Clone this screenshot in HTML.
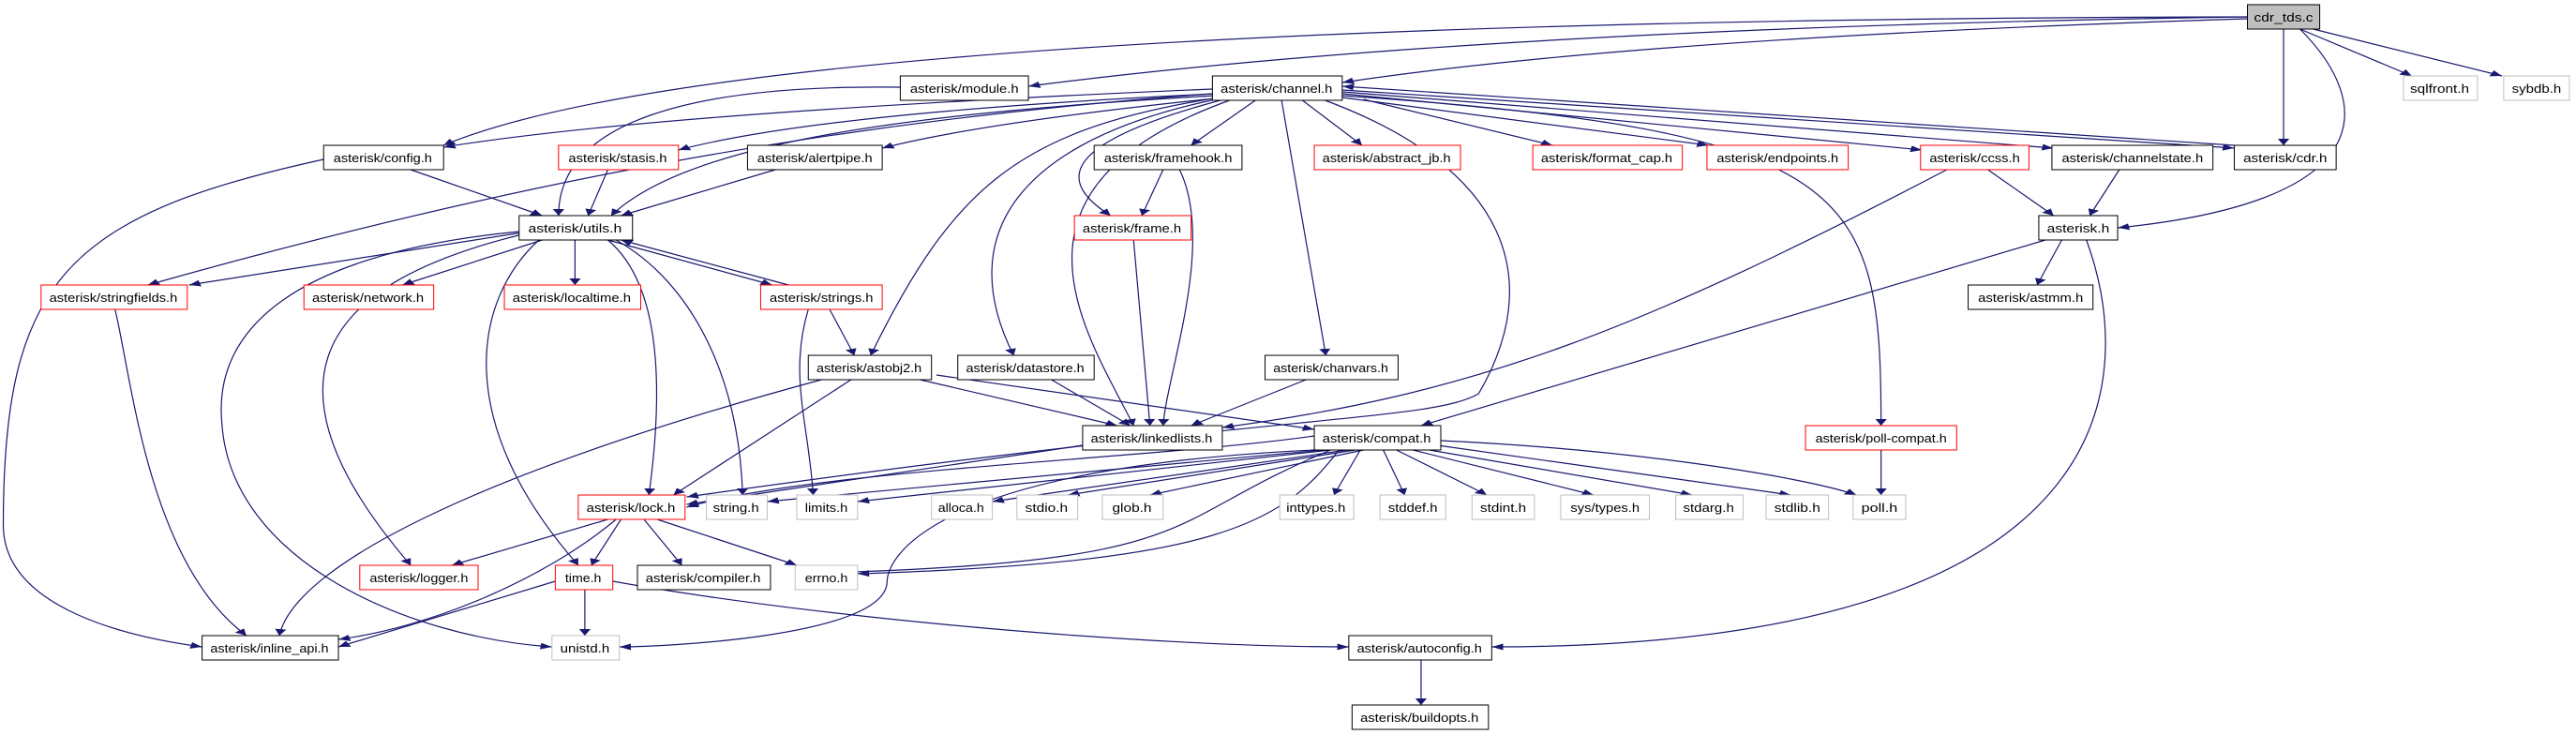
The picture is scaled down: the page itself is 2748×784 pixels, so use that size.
<!DOCTYPE html>
<html><head><meta charset="utf-8"><style>
html,body{margin:0;padding:0;background:#fff;}
svg{display:block;}
text{font-family:"Liberation Sans",sans-serif;font-size:13px;fill:#000;}
.e{fill:none;stroke:#191970;stroke-width:1.2;}
.b{fill:#fff;stroke:#000;}
.r{fill:#fff;stroke:#ff0000;}
.g{fill:#fff;stroke:#bfbfbf;}
</style></head><body>
<svg width="2748" height="784" viewBox="0 0 1568 784" preserveAspectRatio="none" xmlns="http://www.w3.org/2000/svg">
<defs><marker id="a" viewBox="0 0 10 10" refX="10" refY="5" markerUnits="userSpaceOnUse" markerWidth="7" markerHeight="10" orient="auto"><path d="M0,0L10,5L0,10z" fill="#191970"/></marker></defs>
<g class="e" marker-end="url(#a)" vector-effect="non-scaling-stroke">
<path vector-effect="non-scaling-stroke" d="M1368,18 Q900,30 626,92"/>
<path vector-effect="non-scaling-stroke" d="M1368,20 Q1000,40 817,88"/>
<path vector-effect="non-scaling-stroke" d="M1368,18 C800,20 400,60 270,155"/>
<path vector-effect="non-scaling-stroke" d="M1390,31 L1390,155"/>
<path vector-effect="non-scaling-stroke" d="M1400,31 C1445,110 1450,215 1289,243"/>
<path vector-effect="non-scaling-stroke" d="M1400,31 L1468,81"/>
<path vector-effect="non-scaling-stroke" d="M1408,31 L1523,81"/>
<path vector-effect="non-scaling-stroke" d="M548,93 C420,90 340,130 340,230"/>
<path vector-effect="non-scaling-stroke" d="M738,95 Q400,120 270,157"/>
<path vector-effect="non-scaling-stroke" d="M740,100 Q500,120 413,160"/>
<path vector-effect="non-scaling-stroke" d="M745,104 Q600,130 537,158"/>
<path vector-effect="non-scaling-stroke" d="M740,102 C560,120 420,150 372,230"/>
<path vector-effect="non-scaling-stroke" d="M738,100 C500,130 300,200 90,304"/>
<path vector-effect="non-scaling-stroke" d="M765,106 L725,155"/>
<path vector-effect="non-scaling-stroke" d="M745,106 C650,150 640,190 676,230"/>
<path vector-effect="non-scaling-stroke" d="M792,106 L829,155"/>
<path vector-effect="non-scaling-stroke" d="M830,106 L945,155"/>
<path vector-effect="non-scaling-stroke" d="M817,104 L1040,155"/>
<path vector-effect="non-scaling-stroke" d="M817,100 L1170,160"/>
<path vector-effect="non-scaling-stroke" d="M817,98 L1250,158"/>
<path vector-effect="non-scaling-stroke" d="M817,96 L1360,158"/>
<path vector-effect="non-scaling-stroke" d="M1360,155 L817,92"/>
<path vector-effect="non-scaling-stroke" d="M735,106 C620,140 580,200 530,379"/>
<path vector-effect="non-scaling-stroke" d="M740,106 C620,150 580,250 617,379"/>
<path vector-effect="non-scaling-stroke" d="M750,106 C600,200 660,350 690,454"/>
<path vector-effect="non-scaling-stroke" d="M780,106 L807,379"/>
<path vector-effect="non-scaling-stroke" d="M805,106 C920,180 940,300 900,420 C870,450 780,440 418,530"/>
<path vector-effect="non-scaling-stroke" d="M817,102 C1130,140 1145,200 1145,454"/>
<path vector-effect="non-scaling-stroke" d="M250,181 L330,230"/>
<path vector-effect="non-scaling-stroke" d="M197,170 C40,230 2,300 2,560 C2,650 80,680 123,690"/>
<path vector-effect="non-scaling-stroke" d="M370,181 L358,230"/>
<path vector-effect="non-scaling-stroke" d="M472,181 L378,230"/>
<path vector-effect="non-scaling-stroke" d="M708,181 L695,230"/>
<path vector-effect="non-scaling-stroke" d="M718,181 C740,260 710,400 708,454"/>
<path vector-effect="non-scaling-stroke" d="M690,256 L700,454"/>
<path vector-effect="non-scaling-stroke" d="M1210,181 L1250,230"/>
<path vector-effect="non-scaling-stroke" d="M1185,181 C1000,350 900,420 744,456"/>
<path vector-effect="non-scaling-stroke" d="M1290,181 L1272,230"/>
<path vector-effect="non-scaling-stroke" d="M1255,256 L1240,304"/>
<path vector-effect="non-scaling-stroke" d="M1245,256 L865,454"/>
<path vector-effect="non-scaling-stroke" d="M1270,256 C1300,400 1300,690 908,690"/>
<path vector-effect="non-scaling-stroke" d="M318,248 L115,304"/>
<path vector-effect="non-scaling-stroke" d="M330,256 L245,304"/>
<path vector-effect="non-scaling-stroke" d="M350,256 L350,304"/>
<path vector-effect="non-scaling-stroke" d="M370,256 L470,304"/>
<path vector-effect="non-scaling-stroke" d="M480,304 L378,256"/>
<path vector-effect="non-scaling-stroke" d="M370,256 C400,300 405,400 395,528"/>
<path vector-effect="non-scaling-stroke" d="M375,256 C420,300 450,400 452,528"/>
<path vector-effect="non-scaling-stroke" d="M328,256 C288,320 275,450 352,603"/>
<path vector-effect="non-scaling-stroke" d="M318,250 C200,300 150,400 250,603"/>
<path vector-effect="non-scaling-stroke" d="M316,247 C180,270 130,350 135,450 C140,600 250,680 336,690"/>
<path vector-effect="non-scaling-stroke" d="M505,330 L520,379"/>
<path vector-effect="non-scaling-stroke" d="M492,330 C480,400 492,450 495,528"/>
<path vector-effect="non-scaling-stroke" d="M70,330 C80,400 90,600 150,678"/>
<path vector-effect="non-scaling-stroke" d="M560,405 L680,454"/>
<path vector-effect="non-scaling-stroke" d="M570,400 L800,458"/>
<path vector-effect="non-scaling-stroke" d="M518,405 L410,528"/>
<path vector-effect="non-scaling-stroke" d="M500,405 C300,500 180,600 170,678"/>
<path vector-effect="non-scaling-stroke" d="M640,405 L688,454"/>
<path vector-effect="non-scaling-stroke" d="M795,405 L725,454"/>
<path vector-effect="non-scaling-stroke" d="M659,475 L418,538"/>
<path vector-effect="non-scaling-stroke" d="M800,465 C700,490 500,500 418,541"/>
<path vector-effect="non-scaling-stroke" d="M805,480 L467,535"/>
<path vector-effect="non-scaling-stroke" d="M810,480 L522,535"/>
<path vector-effect="non-scaling-stroke" d="M820,480 L604,535"/>
<path vector-effect="non-scaling-stroke" d="M825,480 L650,528"/>
<path vector-effect="non-scaling-stroke" d="M830,480 L700,528"/>
<path vector-effect="non-scaling-stroke" d="M828,480 L812,528"/>
<path vector-effect="non-scaling-stroke" d="M842,480 L855,528"/>
<path vector-effect="non-scaling-stroke" d="M850,480 L905,528"/>
<path vector-effect="non-scaling-stroke" d="M860,480 L970,528"/>
<path vector-effect="non-scaling-stroke" d="M870,480 L1030,528"/>
<path vector-effect="non-scaling-stroke" d="M875,475 L1090,528"/>
<path vector-effect="non-scaling-stroke" d="M877,470 C1000,480 1100,510 1130,528"/>
<path vector-effect="non-scaling-stroke" d="M810,480 C700,560 740,600 484,612"/>
<path vector-effect="non-scaling-stroke" d="M815,480 C780,560 740,600 522,612"/>
<path vector-effect="non-scaling-stroke" d="M800,480 C560,500 540,600 540,620 C540,680 400,690 377,690"/>
<path vector-effect="non-scaling-stroke" d="M1145,480 L1145,528"/>
<path vector-effect="non-scaling-stroke" d="M370,554 L275,603"/>
<path vector-effect="non-scaling-stroke" d="M378,554 L360,603"/>
<path vector-effect="non-scaling-stroke" d="M392,554 L415,603"/>
<path vector-effect="non-scaling-stroke" d="M400,554 L485,603"/>
<path vector-effect="non-scaling-stroke" d="M375,554 C330,620 260,670 206,682"/>
<path vector-effect="non-scaling-stroke" d="M338,620 L206,690"/>
<path vector-effect="non-scaling-stroke" d="M356,629 L356,678"/>
<path vector-effect="non-scaling-stroke" d="M373,620 C500,660 700,690 821,690"/>
<path vector-effect="non-scaling-stroke" d="M865,704 L865,752"/>
</g>
<g>
<rect x="1368" y="5" width="44" height="26" fill="#bfbfbf" stroke="#000" vector-effect="non-scaling-stroke"/><text x="1390" y="23" text-anchor="middle" textLength="36" lengthAdjust="spacingAndGlyphs">cdr_tds.c</text>
<rect class="b" x="548" y="81" width="78" height="26" vector-effect="non-scaling-stroke"/><text x="587" y="99" text-anchor="middle" textLength="66" lengthAdjust="spacingAndGlyphs">asterisk/module.h</text>
<rect class="b" x="738" y="81" width="79" height="26" vector-effect="non-scaling-stroke"/><text x="777" y="99" text-anchor="middle" textLength="68" lengthAdjust="spacingAndGlyphs">asterisk/channel.h</text>
<rect class="g" x="1463" y="81" width="45" height="26" vector-effect="non-scaling-stroke"/><text x="1485" y="99" text-anchor="middle" textLength="36" lengthAdjust="spacingAndGlyphs">sqlfront.h</text>
<rect class="g" x="1524" y="81" width="40" height="26" vector-effect="non-scaling-stroke"/><text x="1544" y="99" text-anchor="middle" textLength="30" lengthAdjust="spacingAndGlyphs">sybdb.h</text>

<rect class="b" x="197" y="155" width="73" height="26" vector-effect="non-scaling-stroke"/><text x="233" y="173" text-anchor="middle" textLength="60" lengthAdjust="spacingAndGlyphs">asterisk/config.h</text>
<rect class="r" x="340" y="155" width="73" height="26" vector-effect="non-scaling-stroke"/><text x="376" y="173" text-anchor="middle" textLength="60" lengthAdjust="spacingAndGlyphs">asterisk/stasis.h</text>
<rect class="b" x="455" y="155" width="82" height="26" vector-effect="non-scaling-stroke"/><text x="496" y="173" text-anchor="middle" textLength="70" lengthAdjust="spacingAndGlyphs">asterisk/alertpipe.h</text>
<rect class="b" x="666" y="155" width="90" height="26" vector-effect="non-scaling-stroke"/><text x="711" y="173" text-anchor="middle" textLength="78" lengthAdjust="spacingAndGlyphs">asterisk/framehook.h</text>
<rect class="r" x="800" y="155" width="89" height="26" vector-effect="non-scaling-stroke"/><text x="844" y="173" text-anchor="middle" textLength="78" lengthAdjust="spacingAndGlyphs">asterisk/abstract_jb.h</text>
<rect class="r" x="933" y="155" width="91" height="26" vector-effect="non-scaling-stroke"/><text x="978" y="173" text-anchor="middle" textLength="80" lengthAdjust="spacingAndGlyphs">asterisk/format_cap.h</text>
<rect class="r" x="1039" y="155" width="86" height="26" vector-effect="non-scaling-stroke"/><text x="1082" y="173" text-anchor="middle" textLength="74" lengthAdjust="spacingAndGlyphs">asterisk/endpoints.h</text>
<rect class="r" x="1169" y="155" width="66" height="26" vector-effect="non-scaling-stroke"/><text x="1202" y="173" text-anchor="middle" textLength="55" lengthAdjust="spacingAndGlyphs">asterisk/ccss.h</text>
<rect class="b" x="1249" y="155" width="98" height="26" vector-effect="non-scaling-stroke"/><text x="1298" y="173" text-anchor="middle" textLength="86" lengthAdjust="spacingAndGlyphs">asterisk/channelstate.h</text>
<rect class="b" x="1360" y="155" width="62" height="26" vector-effect="non-scaling-stroke"/><text x="1391" y="173" text-anchor="middle" textLength="51" lengthAdjust="spacingAndGlyphs">asterisk/cdr.h</text>

<rect class="b" x="316" y="230" width="69" height="26" vector-effect="non-scaling-stroke"/><text x="350" y="248" text-anchor="middle" textLength="57" lengthAdjust="spacingAndGlyphs">asterisk/utils.h</text>
<rect class="r" x="654" y="230" width="71" height="26" vector-effect="non-scaling-stroke"/><text x="689" y="248" text-anchor="middle" textLength="60" lengthAdjust="spacingAndGlyphs">asterisk/frame.h</text>
<rect class="b" x="1241" y="230" width="48" height="26" vector-effect="non-scaling-stroke"/><text x="1265" y="248" text-anchor="middle" textLength="38" lengthAdjust="spacingAndGlyphs">asterisk.h</text>

<rect class="r" x="25" y="304" width="89" height="26" vector-effect="non-scaling-stroke"/><text x="69" y="322" text-anchor="middle" textLength="78" lengthAdjust="spacingAndGlyphs">asterisk/stringfields.h</text>
<rect class="r" x="185" y="304" width="79" height="26" vector-effect="non-scaling-stroke"/><text x="224" y="322" text-anchor="middle" textLength="68" lengthAdjust="spacingAndGlyphs">asterisk/network.h</text>
<rect class="r" x="307" y="304" width="83" height="26" vector-effect="non-scaling-stroke"/><text x="348" y="322" text-anchor="middle" textLength="72" lengthAdjust="spacingAndGlyphs">asterisk/localtime.h</text>
<rect class="r" x="463" y="304" width="74" height="26" vector-effect="non-scaling-stroke"/><text x="500" y="322" text-anchor="middle" textLength="63" lengthAdjust="spacingAndGlyphs">asterisk/strings.h</text>
<rect class="b" x="1198" y="304" width="76" height="26" vector-effect="non-scaling-stroke"/><text x="1236" y="322" text-anchor="middle" textLength="64" lengthAdjust="spacingAndGlyphs">asterisk/astmm.h</text>

<rect class="b" x="492" y="379" width="75" height="26" vector-effect="non-scaling-stroke"/><text x="529" y="397" text-anchor="middle" textLength="64" lengthAdjust="spacingAndGlyphs">asterisk/astobj2.h</text>
<rect class="b" x="583" y="379" width="83" height="26" vector-effect="non-scaling-stroke"/><text x="624" y="397" text-anchor="middle" textLength="72" lengthAdjust="spacingAndGlyphs">asterisk/datastore.h</text>
<rect class="b" x="770" y="379" width="81" height="26" vector-effect="non-scaling-stroke"/><text x="810" y="397" text-anchor="middle" textLength="70" lengthAdjust="spacingAndGlyphs">asterisk/chanvars.h</text>

<rect class="b" x="659" y="454" width="85" height="26" vector-effect="non-scaling-stroke"/><text x="701" y="472" text-anchor="middle" textLength="74" lengthAdjust="spacingAndGlyphs">asterisk/linkedlists.h</text>
<rect class="b" x="800" y="454" width="77" height="26" vector-effect="non-scaling-stroke"/><text x="838" y="472" text-anchor="middle" textLength="66" lengthAdjust="spacingAndGlyphs">asterisk/compat.h</text>
<rect class="r" x="1099" y="454" width="92" height="26" vector-effect="non-scaling-stroke"/><text x="1145" y="472" text-anchor="middle" textLength="80" lengthAdjust="spacingAndGlyphs">asterisk/poll-compat.h</text>

<rect class="r" x="352" y="528" width="65" height="26" vector-effect="non-scaling-stroke"/><text x="384" y="546" text-anchor="middle" textLength="54" lengthAdjust="spacingAndGlyphs">asterisk/lock.h</text>
<rect class="g" x="430" y="528" width="37" height="26" vector-effect="non-scaling-stroke"/><text x="448" y="546" text-anchor="middle" textLength="28" lengthAdjust="spacingAndGlyphs">string.h</text>
<rect class="g" x="485" y="528" width="37" height="26" vector-effect="non-scaling-stroke"/><text x="503" y="546" text-anchor="middle" textLength="26" lengthAdjust="spacingAndGlyphs">limits.h</text>
<rect class="g" x="567" y="528" width="37" height="26" vector-effect="non-scaling-stroke"/><text x="585" y="546" text-anchor="middle" textLength="28" lengthAdjust="spacingAndGlyphs">alloca.h</text>
<rect class="g" x="619" y="528" width="37" height="26" vector-effect="non-scaling-stroke"/><text x="637" y="546" text-anchor="middle" textLength="26" lengthAdjust="spacingAndGlyphs">stdio.h</text>
<rect class="g" x="671" y="528" width="37" height="26" vector-effect="non-scaling-stroke"/><text x="689" y="546" text-anchor="middle" textLength="24" lengthAdjust="spacingAndGlyphs">glob.h</text>
<rect class="g" x="779" y="528" width="45" height="26" vector-effect="non-scaling-stroke"/><text x="801" y="546" text-anchor="middle" textLength="36" lengthAdjust="spacingAndGlyphs">inttypes.h</text>
<rect class="g" x="840" y="528" width="40" height="26" vector-effect="non-scaling-stroke"/><text x="860" y="546" text-anchor="middle" textLength="30" lengthAdjust="spacingAndGlyphs">stddef.h</text>
<rect class="g" x="896" y="528" width="38" height="26" vector-effect="non-scaling-stroke"/><text x="915" y="546" text-anchor="middle" textLength="28" lengthAdjust="spacingAndGlyphs">stdint.h</text>
<rect class="g" x="950" y="528" width="54" height="26" vector-effect="non-scaling-stroke"/><text x="977" y="546" text-anchor="middle" textLength="42" lengthAdjust="spacingAndGlyphs">sys/types.h</text>
<rect class="g" x="1020" y="528" width="41" height="26" vector-effect="non-scaling-stroke"/><text x="1040" y="546" text-anchor="middle" textLength="31" lengthAdjust="spacingAndGlyphs">stdarg.h</text>
<rect class="g" x="1075" y="528" width="38" height="26" vector-effect="non-scaling-stroke"/><text x="1094" y="546" text-anchor="middle" textLength="28" lengthAdjust="spacingAndGlyphs">stdlib.h</text>
<rect class="g" x="1128" y="528" width="32" height="26" vector-effect="non-scaling-stroke"/><text x="1144" y="546" text-anchor="middle" textLength="22" lengthAdjust="spacingAndGlyphs">poll.h</text>

<rect class="r" x="219" y="603" width="72" height="26" vector-effect="non-scaling-stroke"/><text x="255" y="621" text-anchor="middle" textLength="60" lengthAdjust="spacingAndGlyphs">asterisk/logger.h</text>
<rect class="r" x="338" y="603" width="35" height="26" vector-effect="non-scaling-stroke"/><text x="355" y="621" text-anchor="middle" textLength="22" lengthAdjust="spacingAndGlyphs">time.h</text>
<rect class="b" x="388" y="603" width="81" height="26" vector-effect="non-scaling-stroke"/><text x="428" y="621" text-anchor="middle" textLength="70" lengthAdjust="spacingAndGlyphs">asterisk/compiler.h</text>
<rect class="g" x="484" y="603" width="38" height="26" vector-effect="non-scaling-stroke"/><text x="503" y="621" text-anchor="middle" textLength="26" lengthAdjust="spacingAndGlyphs">errno.h</text>

<rect class="b" x="123" y="678" width="83" height="26" vector-effect="non-scaling-stroke"/><text x="164" y="696" text-anchor="middle" textLength="72" lengthAdjust="spacingAndGlyphs">asterisk/inline_api.h</text>
<rect class="g" x="336" y="678" width="41" height="26" vector-effect="non-scaling-stroke"/><text x="356" y="696" text-anchor="middle" textLength="30" lengthAdjust="spacingAndGlyphs">unistd.h</text>
<rect class="b" x="821" y="678" width="87" height="26" vector-effect="non-scaling-stroke"/><text x="864" y="696" text-anchor="middle" textLength="76" lengthAdjust="spacingAndGlyphs">asterisk/autoconfig.h</text>
<rect class="b" x="823" y="752" width="83" height="26" vector-effect="non-scaling-stroke"/><text x="864" y="770" text-anchor="middle" textLength="72" lengthAdjust="spacingAndGlyphs">asterisk/buildopts.h</text>
</g>
</svg>
</body></html>
